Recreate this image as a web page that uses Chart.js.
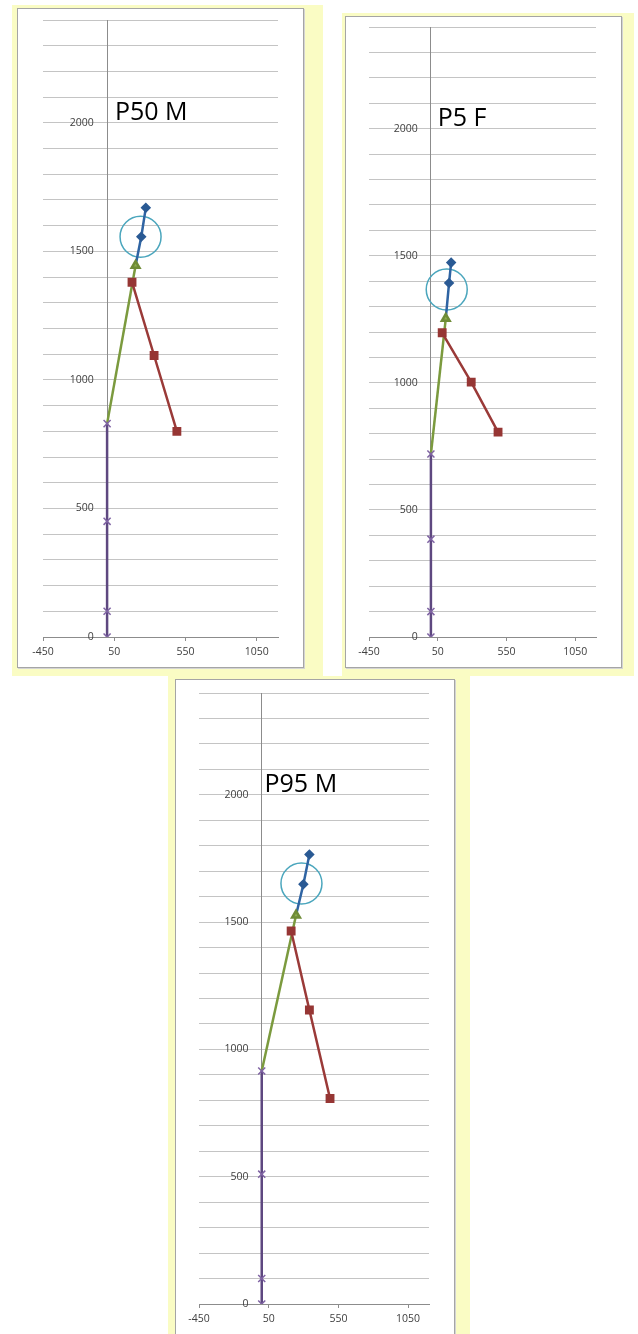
<!DOCTYPE html>
<html>
<head>
<meta charset="utf-8">
<script src="https://cdn.jsdelivr.net/npm/chart.js@4.4.1/dist/chart.umd.min.js"></script>
<style>
  body { margin: 0; background: #fff; width: 638px; height: 1334px; position: relative; overflow: hidden; }
  .panel { position: absolute; background: #fafcc4; }
  .box { position: absolute; background: #fff; border: 1px solid #a5a5a5; box-shadow: 1px 1px 0 #d4d4d4; }
  .box canvas { display: block; }
</style>
</head>
<body>
<div class="panel" style="left:12px;top:5px;width:311px;height:671px"></div>
<div class="panel" style="left:342px;top:13px;width:292px;height:663px"></div>
<div class="panel" style="left:168px;top:676px;width:302px;height:658px"></div>
<div class="box" style="left:17px;top:8px;width:285px;height:658px"><canvas id="chartP50M" width="285" height="658"></canvas></div>
<div class="box" style="left:345px;top:16px;width:275px;height:650px"><canvas id="chartP5F" width="275" height="650"></canvas></div>
<div class="box" style="left:175px;top:679px;width:278px;height:654px"><canvas id="chartP95M" width="278" height="654"></canvas></div>
<script>
// axis ticks
const xTicks = [-450, 50, 550, 1050];
const yTicks = [0, 500, 1000, 1500, 2000];

// P50 M  [x, y]
const p50mLegs = [[0, 0], [0, 100], [0, 450], [0, 830]];
const p50mTorso = [[0, 830], [200, 1445]];
const p50mArm = [[175, 1380], [330, 1095], [490, 800]];
const p50mNeck = [[200, 1445], [240, 1557], [272, 1670]];
const p50mHead = [[235, 1557]];

// P5 F
const p5fLegs = [[0, 0], [0, 100], [0, 385], [0, 720]];
const p5fTorso = [[0, 720], [108, 1253]];
const p5fArm = [[82, 1197], [293, 1003], [488, 806]];
const p5fNeck = [[108, 1253], [132, 1393], [147, 1473]];
const p5fHead = [[115, 1367]];

// P95 M
const p95mLegs = [[0, 0], [0, 100], [0, 510], [0, 915]];
const p95mTorso = [[0, 915], [246, 1527]];
const p95mArm = [[211, 1465], [342, 1155], [490, 807]];
const p95mNeck = [[246, 1527], [299, 1649], [342, 1766]];
const p95mHead = [[285, 1652]];

const toPoints = arr => arr.map(p => ({ x: p[0], y: p[1] }));

// big label drawn inside the plot
const figureLabel = {
    id: 'figureLabel',
    afterDatasetsDraw(chart, args, opts) {
        const ctx = chart.ctx;
        ctx.save();
        ctx.font = '25px "Open Sans"';
        ctx.fillStyle = '#000';
        ctx.textAlign = 'left';
        ctx.textBaseline = 'alphabetic';
        ctx.fillText(opts.text, chart.scales.x.getPixelForValue(opts.x), chart.scales.y.getPixelForValue(opts.y));
        ctx.restore();
    }
};

const tickFont = { family: 'Open Sans', size: 10.5 };

function makeChart(id, title, titleX, pad, legs, torso, arm, neck, head) {
    const ctx = document.getElementById(id).getContext('2d');
    new Chart(ctx, {
        type: 'scatter',
        data: {
            datasets: [
                {
                    label: 'legs',
                    data: toPoints(legs),
                    showLine: true,
                    borderColor: '#5e4880',
                    borderWidth: 2.5,
                    pointStyle: 'crossRot',
                    pointRadius: 5,
                    pointBorderColor: '#7f63a3',
                    pointBorderWidth: 1.5
                },
                {
                    label: 'arm',
                    data: toPoints(arm),
                    showLine: true,
                    borderColor: '#9a3a38',
                    borderWidth: 2.5,
                    pointStyle: 'rect',
                    pointRadius: 4.5,
                    pointBackgroundColor: '#963634',
                    pointBorderColor: '#963634'
                },
                {
                    label: 'torso',
                    data: toPoints(torso),
                    showLine: true,
                    borderColor: '#7b9a3e',
                    borderWidth: 2.5,
                    pointStyle: 'triangle',
                    pointRadius: [0, 4.5],
                    pointBackgroundColor: '#8cad4c',
                    pointBorderColor: '#6f8c37'
                },
                {
                    label: 'neck',
                    data: toPoints(neck),
                    showLine: true,
                    borderColor: '#2f64a3',
                    borderWidth: 2.5,
                    pointStyle: 'rectRot',
                    pointRadius: [0, 3.5, 3.5],
                    pointBackgroundColor: '#2a5a94',
                    pointBorderColor: '#2a5a94'
                },
                {
                    label: 'head',
                    data: toPoints(head),
                    showLine: false,
                    pointStyle: 'circle',
                    pointRadius: 20.5,
                    pointBorderWidth: 1.5,
                    pointBorderColor: '#4ba6bd',
                    pointBackgroundColor: 'rgba(0,0,0,0)'
                }
            ]
        },
        options: {
            responsive: false,
            animation: false,
            layout: {
                // the head marker is big, don't let it push the plot area in
                autoPadding: false,
                padding: pad
            },
            plugins: {
                legend: { display: false },
                tooltip: { enabled: false },
                figureLabel: { text: title, x: titleX, y: 2010 }
            },
            scales: {
                x: {
                    type: 'linear',
                    position: 'bottom',
                    min: -450,
                    max: 1200,
                    afterBuildTicks: scale => {
                        scale.ticks = xTicks.map(v => ({ value: v }));
                    },
                    afterFit: scale => {
                        scale.height = 30;
                    },
                    grid: {
                        drawOnChartArea: false,
                        tickLength: 4,
                        color: '#8c8c8c'
                    },
                    border: { color: '#8c8c8c' },
                    ticks: {
                        padding: 5,
                        color: '#404040',
                        font: tickFont,
                        maxRotation: 0,
                        callback: v => String(v)
                    }
                },
                y: {
                    type: 'linear',
                    position: { x: 0 },
                    min: 0,
                    max: 2400,
                    grid: {
                        color: '#c4c4c4',
                        drawTicks: false
                    },
                    border: { color: '#8c8c8c' },
                    ticks: {
                        stepSize: 100,
                        autoSkip: false,
                        color: '#404040',
                        font: tickFont,
                        // label sits left of the axis line, the em space keeps a gap
                        callback: v => yTicks.includes(v) ? v + '\u2003 ' : ''
                    }
                }
            }
        },
        plugins: [figureLabel]
    });
}

makeChart('chartP50M', 'P50 M', 55, { left: 25, right: 25, top: 11, bottom: 0 },
    p50mLegs, p50mTorso, p50mArm, p50mNeck, p50mHead);
makeChart('chartP5F', 'P5 F', 50, { left: 23, right: 25, top: 10, bottom: 0 },
    p5fLegs, p5fTorso, p5fArm, p5fNeck, p5fHead);
makeChart('chartP95M', 'P95 M', 20, { left: 23, right: 25, top: 13, bottom: 0 },
    p95mLegs, p95mTorso, p95mArm, p95mNeck, p95mHead);
</script>
</body>
</html>
